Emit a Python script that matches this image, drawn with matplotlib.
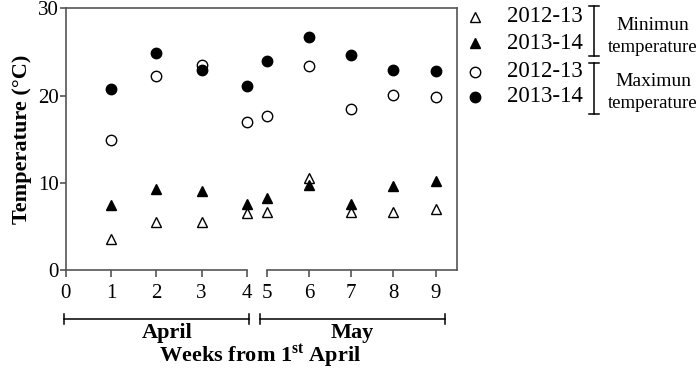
import matplotlib
matplotlib.use("Agg")
import matplotlib.pyplot as plt
from matplotlib.lines import Line2D

plt.rcParams['font.family'] = ['Liberation Serif', 'DejaVu Serif']
plt.rcParams['mathtext.fontset'] = 'custom'
plt.rcParams['mathtext.rm'] = 'Liberation Serif'
plt.rcParams['mathtext.bf'] = 'Liberation Serif:bold'

# data
weeks = [1, 2, 3, 4, 5, 6, 7, 8, 9]
min_2012 = [3.5, 5.5, 5.5, 6.5, 6.65, 10.5, 6.6, 6.6, 7.0]
min_2013 = [7.4, 9.25, 9.05, 7.6, 8.2, 9.75, 7.6, 9.6, 10.25]
max_2012 = [14.9, 22.2, 23.5, 17.0, 17.7, 23.4, 18.5, 20.1, 19.8]
max_2013 = [20.7, 24.9, 22.9, 21.1, 24.0, 26.7, 24.6, 22.9, 22.8]
series_labels = ['2012-13', '2013-14', '2012-13', '2013-14']
y_ticks = [0, 10, 20, 30]

W, H = 700, 373
fig = plt.figure(figsize=(7, 3.73), dpi=100)

def fx(px):
    return px / W

def fy(py):
    return 1 - py / H

grey = '#555555'
left_px, right_px, top_px, bot_px = 65.7, 456.7, 8.3, 270
brk1, brk2 = 247, 266.7

# frame axes: left, top, right spines + y ticks
frame = fig.add_axes([fx(left_px), fy(bot_px), fx(right_px - left_px), (bot_px - top_px) / H])
frame.set_ylim(0, 30)
frame.set_xlim(0, 1)
frame.set_yticks(y_ticks)
frame.set_xticks([])
frame.spines['bottom'].set_visible(False)
for s in ['left', 'top', 'right']:
    frame.spines[s].set_color(grey)
    frame.spines[s].set_linewidth(1.2)
frame.tick_params(axis='y', direction='out', length=4, width=1.2, color=grey,
                  labelsize=15, pad=1)
frame.set_ylabel('Temperature (°C)', fontsize=16, fontweight='bold', labelpad=4)

ax1 = fig.add_axes([fx(left_px), fy(bot_px), fx(brk1 - left_px), (bot_px - top_px) / H])
ax2 = fig.add_axes([fx(brk2), fy(bot_px), fx(right_px - brk2), (bot_px - top_px) / H])
ax1.set_xlim(0, 4)
ax2.set_xlim(5, 9.5)
ax1.set_xticks([0, 1, 2, 3, 4])
ax2.set_xticks([5, 6, 7, 8, 9])
for a in (ax1, ax2):
    a.set_ylim(0, 30)
    a.patch.set_visible(False)
    for s in ['left', 'top', 'right']:
        a.spines[s].set_visible(False)
    a.spines['bottom'].set_color(grey)
    a.spines['bottom'].set_linewidth(1.2)
    a.set_yticks([])
    a.tick_params(axis='x', direction='out', length=5, width=1.2, color=grey,
                  labelsize=15, pad=5)

styles = [
    (min_2012, '^', 'white'),
    (min_2013, '^', 'black'),
    (max_2012, 'o', 'white'),
    (max_2013, 'o', 'black'),
]
handles = []
for (vals, mk, fc), lab in zip(styles, series_labels):
    for a, lo, hi in ((ax1, 0, 4), (ax2, 5, 9)):
        xs = [w for w in weeks if lo <= w <= hi]
        ys = [v for w, v in zip(weeks, vals) if lo <= w <= hi]
        a.plot(xs, ys, linestyle='none', marker=mk, markersize=7.5,
               markerfacecolor=fc, markeredgecolor='black', markeredgewidth=1.0,
               clip_on=False)
    handles.append(Line2D([], [], linestyle='none', marker=mk, markersize=7,
                          markerfacecolor=fc, markeredgecolor='black',
                          markeredgewidth=1.0, label=lab))

# legend drawn by hand
rows = [16.7, 43.3, 71.7, 96.7]
for h, lab, ry in zip(handles, series_labels, rows):
    fig.add_artist(Line2D([fx(475)], [fy(ry)], linestyle='none', marker=h.get_marker(),
                          markersize=7.5, markerfacecolor=h.get_markerfacecolor(),
                          markeredgecolor='black', markeredgewidth=1.0))
    fig.text(fx(507), fy(ry), lab, fontsize=16.5, ha='left', va='center')

def vbracket(x, y0, y1):
    fig.add_artist(Line2D([fx(x), fx(x)], [fy(y0), fy(y1)], color='black', lw=1.1))
    for yy in (y0, y1):
        fig.add_artist(Line2D([fx(x - 5), fx(x + 5)], [fy(yy), fy(yy)], color='black', lw=1.1))

vbracket(594, 5.7, 56)
vbracket(594, 63, 114)
fig.text(fx(653), fy(25), 'Minimun', fontsize=14, ha='center', va='center')
fig.text(fx(653), fy(47), 'temperature', fontsize=13.5, ha='center', va='center')
fig.text(fx(653), fy(82), 'Maximun', fontsize=14, ha='center', va='center')
fig.text(fx(653), fy(104), 'temperature', fontsize=13.5, ha='center', va='center')

def hbracket(x0, x1, y):
    fig.add_artist(Line2D([fx(x0), fx(x1)], [fy(y), fy(y)], color='black', lw=1.1))
    for xx in (x0, x1):
        fig.add_artist(Line2D([fx(xx), fx(xx)], [fy(y - 5), fy(y + 5)], color='black', lw=1.1))

hbracket(64, 249.3, 319.3)
hbracket(259.7, 445.3, 319.3)
fig.text(fx(167), fy(333), 'April', fontsize=16, fontweight='bold', ha='center', va='center')
fig.text(fx(352), fy(333), 'May', fontsize=16, fontweight='bold', ha='center', va='center')
fig.text(fx(260), fy(356), r'Weeks from 1$^{\mathbf{st}}$ April', fontsize=16,
         fontweight='bold', ha='center', va='center')

fig.savefig('out.png', dpi=100)
